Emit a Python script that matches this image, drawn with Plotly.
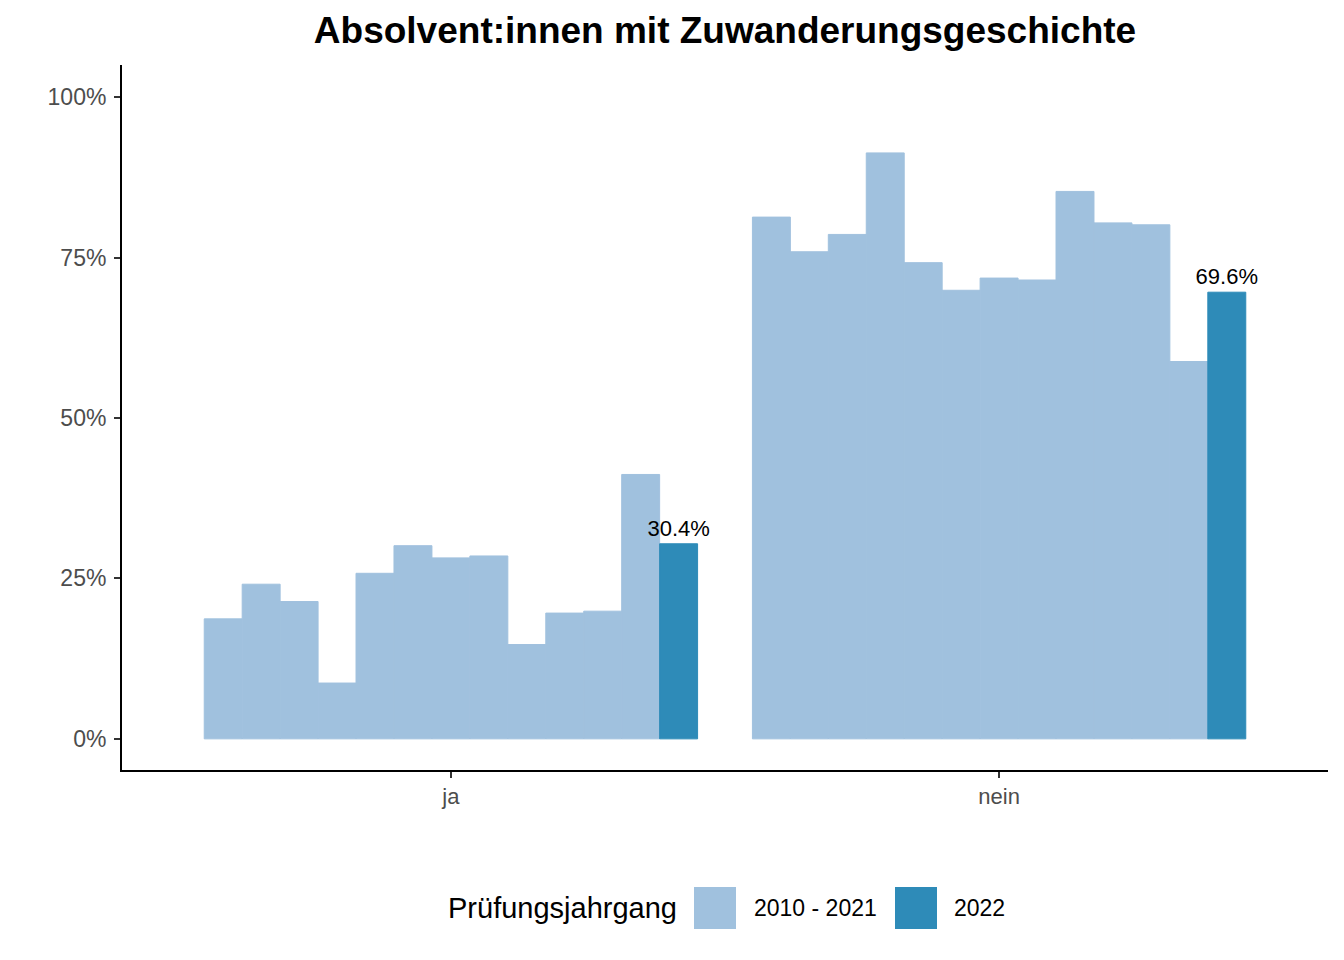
import plotly.graph_objects as go

categories = ["ja", "nein"]
years = ["2010", "2011", "2012", "2013", "2014", "2015", "2016", "2017", "2018", "2019", "2020", "2021", "2022"]
ja_values = [18.7, 24.1, 21.4, 8.7, 25.8, 30.1, 28.2, 28.5, 14.7, 19.6, 19.9, 41.2, 30.4]
nein_values = [81.3, 75.9, 78.6, 91.3, 74.2, 69.9, 71.8, 71.5, 85.3, 80.4, 80.1, 58.8, 69.6]
group_labels = ["2010 - 2021", "2022"]
ytick_vals = [0, 25, 50, 75, 100]
ytick_text = ["0%", "25%", "50%", "75%", "100%"]

LIGHT = "#a0c1de"
DARK = "#2e8bb8"
FONT = "Liberation Sans"

# page has an 8px body margin; figure sized so it fills the 1344x960 viewport
OFF = 8
W, H = 1344 - OFF, 960 - OFF
ML, MR, MT, MB = 122 - OFF, 16, 65 - OFF, 190

fig = go.Figure()
for i, yr in enumerate(years):
    last = i == len(years) - 1
    col = DARK if last else LIGHT
    fig.add_trace(go.Bar(
        x=categories,
        y=[ja_values[i], nein_values[i]],
        name=yr,
        marker=dict(color=col, line=dict(width=1, color=col)),
        text=[f"{ja_values[i]:.1f}%", f"{nein_values[i]:.1f}%"] if last else None,
        textposition="outside" if last else None,
        textfont=dict(family=FONT, size=22, color="black"),
        constraintext="none",
        cliponaxis=False,
        showlegend=False,
        hoverinfo="skip",
    ))

def px_x(p):
    p = p - OFF
    return (p - ML) / (W - ML - MR)

def px_y(q):
    q = q - OFF
    return (H - MB - q) / (H - MT - MB)

shapes = []
annotations = []
annotations.append(dict(text="Prüfungsjahrgang", xref="paper", yref="paper",
                        x=px_x(446), y=px_y(908), xanchor="left", yanchor="middle",
                        showarrow=False, font=dict(family=FONT, size=29, color="black")))
sq = [(694, LIGHT, group_labels[0], 752), (895, DARK, group_labels[1], 952)]
for x0, col, lab, tx in sq:
    shapes.append(dict(type="rect", xref="paper", yref="paper",
                       x0=px_x(x0), x1=px_x(x0 + 42), y0=px_y(929), y1=px_y(887),
                       fillcolor=col, line=dict(width=0)))
    annotations.append(dict(text=lab, xref="paper", yref="paper",
                            x=px_x(tx), y=px_y(908), xanchor="left", yanchor="middle",
                            showarrow=False, font=dict(family=FONT, size=23, color="black")))

fig.update_layout(
    width=W, height=H,
    margin=dict(l=ML, r=MR, t=MT, b=MB, autoexpand=False),
    paper_bgcolor="white", plot_bgcolor="white",
    barmode="group", bargap=0.1, bargroupgap=0,
    showlegend=False,
    title=dict(text="<b>Absolvent:innen mit Zuwanderungsgeschichte</b>",
               x=0.5, xref="paper", xanchor="center",
               y=1 - (30 - OFF) / H, yref="container", yanchor="middle",
               font=dict(family=FONT, size=37, color="black")),
    xaxis=dict(type="category", range=[-0.6, 1.6], showline=True, linecolor="black",
               linewidth=2, ticks="outside", ticklen=6, tickwidth=2, tickcolor="#333333",
               tickfont=dict(family=FONT, size=22, color="#4d4d4d"), showgrid=False,
               zeroline=False, fixedrange=True),
    yaxis=dict(range=[-4.85, 105], showline=True, linecolor="black", linewidth=2,
               ticks="outside", ticklen=6, tickwidth=2, tickcolor="#333333",
               tickvals=ytick_vals, ticktext=ytick_text, ticklabelstandoff=3,
               tickfont=dict(family=FONT, size=23, color="#4d4d4d"), showgrid=False,
               zeroline=False, fixedrange=True),
    shapes=shapes,
    annotations=annotations,
)

fig.write_html("out.html")
